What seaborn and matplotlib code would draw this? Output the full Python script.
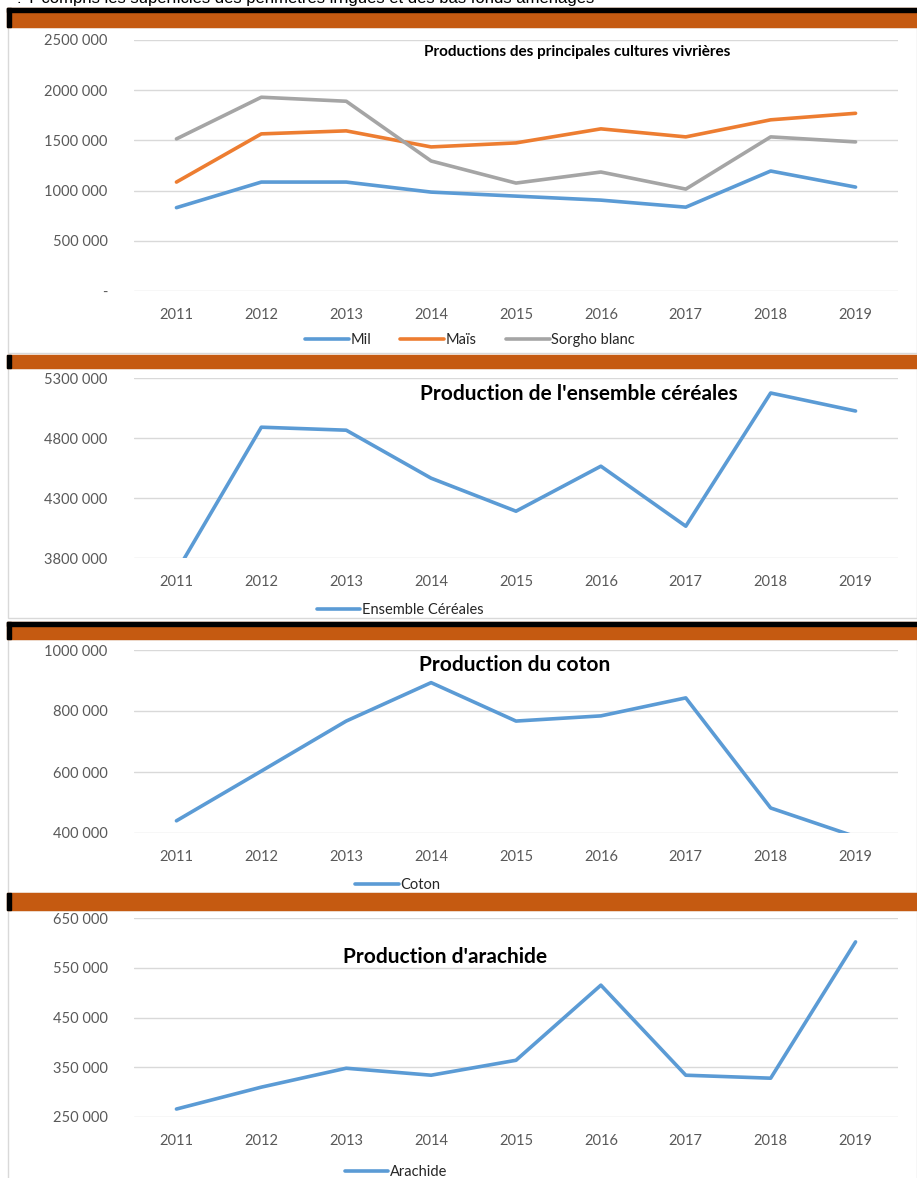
import pandas as pd
import seaborn as sns
import matplotlib.pyplot as plt
from matplotlib.patches import Rectangle

# Data
years = [2011, 2012, 2013, 2014, 2015, 2016, 2017, 2018, 2019]
mil = [830000, 1085000, 1085000, 985000, 945000, 905000, 835000, 1195000, 1035000]
mais = [1085000, 1565000, 1595000, 1435000, 1475000, 1615000, 1535000, 1705000, 1770000]
sorgho = [1515000, 1930000, 1890000, 1295000, 1075000, 1185000, 1015000, 1535000, 1485000]
cereales = [3685000, 4890000, 4865000, 4465000, 4190000, 4565000, 4065000, 5175000, 5025000]
coton = [440000, 603000, 767000, 893000, 767000, 784000, 843000, 482000, 388000]
arachide = [266000, 310000, 348000, 334000, 364000, 515000, 334000, 328000, 602000]

W, H = 917, 1178
ORANGE_HDR = "#C55A11"
BLUE, ORANGE, GRAY = "#5B9BD5", "#ED7D31", "#A5A5A5"
GRID = "#D9D9D9"
TICK = "#595959"

sns.set_theme(style="white")
plt.rcParams['font.family'] = ['Lato', 'DejaVu Sans']

fig = plt.figure(figsize=(W / 100, H / 100), dpi=100)


def box(x0, y0, x1, y1):
    # pixel box -> figure fraction rect
    return [x0 / W, 1 - y1 / H, (x1 - x0) / W, (y1 - y0) / H]


def header(y0, y1, top_black=0):
    fig.patches.append(Rectangle((7 / W, 1 - y1 / H), (W - 7) / W, (y1 - y0) / H,
                                 transform=fig.transFigure, color=ORANGE_HDR, zorder=0))
    if top_black:
        fig.patches.append(Rectangle((7 / W, 1 - (y0 + top_black) / H), (W - 7) / W, top_black / H,
                                     transform=fig.transFigure, color="black", zorder=1))
    fig.patches.append(Rectangle((7 / W, 1 - y1 / H), 4 / W, (y1 - y0) / H,
                                 transform=fig.transFigure, color="black", zorder=1))


def frame(y0, y1):
    fig.patches.append(Rectangle((8 / W, 1 - y1 / H), (W - 8) / W, (y1 - y0) / H,
                                 transform=fig.transFigure, fill=False, edgecolor=GRID,
                                 lw=1, zorder=0))


def panel(y_top, y_bot, df, colors, ylim, yticks, ylabels, title, title_xy, title_size, leg_y, leg_x):
    ax = fig.add_axes(box(134, y_top, 898, y_bot))
    ax.set_facecolor("none")
    sns.lineplot(data=df, x="year", y="value", hue="serie", palette=colors, lw=2.6,
                 ax=ax, legend=True)
    ax.set_xlim(2010.5, 2019.5)
    ax.set_ylim(*ylim)
    ax.set_xticks(years)
    ax.set_xticklabels([str(y) for y in years], fontsize=10.5, color=TICK)
    ax.set_yticks(yticks)
    ax.set_yticklabels(ylabels, fontsize=10.5, color=TICK)
    ax.tick_params(axis="x", length=0, pad=12)
    ax.tick_params(axis="y", length=0, pad=19)
    ax.yaxis.grid(True, color=GRID, lw=1)
    ax.set_axisbelow(True)
    for s in ax.spines.values():
        s.set_visible(False)
    ax.set_xlabel("")
    ax.set_ylabel("")
    fig.text(title_xy[0] / W, 1 - title_xy[1] / H, title, ha="center", va="center",
             fontsize=title_size, fontweight="bold", color="black")
    handles, labels = ax.get_legend_handles_labels()
    ax.legend(handles, labels, loc="center", bbox_to_anchor=(leg_x / W, 1 - leg_y / H),
              bbox_transform=fig.transFigure, ncol=len(labels), frameon=False,
              fontsize=10.5, handlelength=3.0, handletextpad=0.1, columnspacing=2.0)
    return ax


def long(series):
    rows = []
    for name, vals in series.items():
        for y, v in zip(years, vals):
            rows.append({"year": y, "value": v, "serie": name})
    return pd.DataFrame(rows)


# top note, cut at the upper edge as in the source page
fig.text(17 / W, 1 - (-1) / H, ": Y compris les superficies des périmètres irrigués et des bas fonds aménagés",
         family="Liberation Sans", fontsize=12, va="center", ha="left", color="black")

# frames and headers
frame(27, 353)
frame(368, 618)
frame(639, 893)
frame(910, 1180)
header(8, 27, top_black=4)
header(355, 368)
header(622, 639, top_black=4)
header(893, 910)

panel(40, 291, long({"Mil": mil, "Maïs": mais, "Sorgho blanc": sorgho}),
      [BLUE, ORANGE, GRAY], (0, 2500000),
      [0, 500000, 1000000, 1500000, 2000000, 2500000],
      ["-", "500 000", "1000 000", "1500 000", "2000 000", "2500 000"],
      "Productions des principales cultures vivrières", (577, 52), 11, 340, 470)

panel(378, 558, long({"Ensemble Céréales": cereales}), [BLUE], (3800000, 5300000),
      [3800000, 4300000, 4800000, 5300000],
      ["3800 000", "4300 000", "4800 000", "5300 000"],
      "Production de l'ensemble céréales", (579, 394), 15, 610, 400)

panel(650, 833, long({"Coton": coton}), [BLUE], (400000, 1000000),
      [400000, 600000, 800000, 1000000],
      ["400 000", "600 000", "800 000", "1000 000"],
      "Production du coton", (515, 665), 15, 885, 398)

panel(918, 1117, long({"Arachide": arachide}), [BLUE], (250000, 650000),
      [250000, 350000, 450000, 550000, 650000],
      ["250 000", "350 000", "450 000", "550 000", "650 000"],
      "Production d'arachide", (445, 957), 15, 1172, 396)

fig.savefig("out.png", dpi=100)
